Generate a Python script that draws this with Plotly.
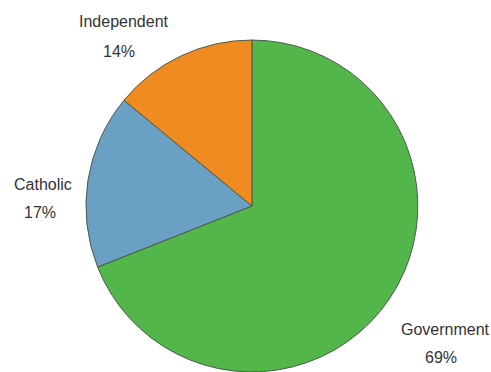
import plotly.graph_objects as go

labels = ["Government", "Catholic", "Independent"]
values = [69, 17, 14]
colors = ["#53b64a", "#6aa0c3", "#f08b22"]

# label annotation positions (pixels) for each category: name line and percent line
name_x = [445, 43, 124]
name_y = [329, 184, 22]
pct_x = [441, 40, 119]
pct_y = [357, 212, 52]

W, H = 491, 372

fig = go.Figure(go.Pie(
    labels=labels,
    values=values,
    sort=False,
    direction="clockwise",
    rotation=0,
    textinfo="none",
    hoverinfo="label+percent",
    marker=dict(colors=colors, line=dict(color="#4d5a48", width=1)),
    domain=dict(x=[0.175, 0.851], y=[0.0, 0.8925]),
    showlegend=False,
))

font = dict(family="Liberation Sans, Arial", size=16, color="#333333")
total = sum(values)
for lab, v, nx, ny, px, py in zip(labels, values, name_x, name_y, pct_x, pct_y):
    fig.add_annotation(
        x=nx / W, y=1 - ny / H, xref="paper", yref="paper",
        xanchor="center", yanchor="middle",
        text=lab, showarrow=False, font=font,
    )
    fig.add_annotation(
        x=px / W, y=1 - py / H, xref="paper", yref="paper",
        xanchor="center", yanchor="middle",
        text=f"{round(100 * v / total)}%", showarrow=False, font=font,
    )

fig.update_layout(
    width=W, height=H,
    margin=dict(l=0, r=0, t=0, b=0),
    paper_bgcolor="white", plot_bgcolor="white",
)

fig.write_html("out.html")
